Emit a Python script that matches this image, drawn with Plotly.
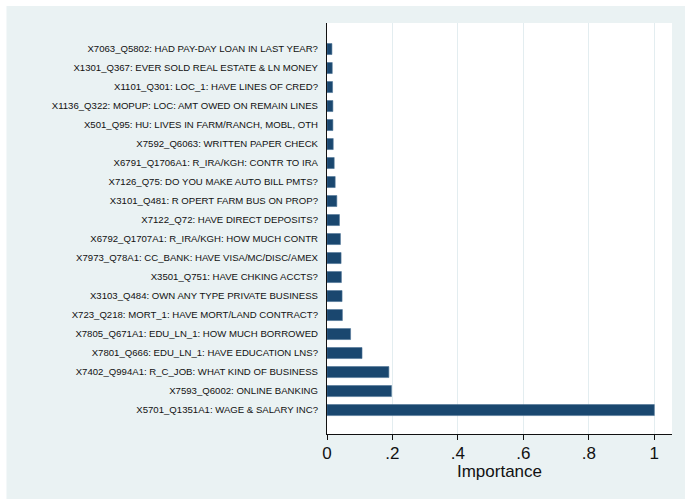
import plotly.graph_objects as go

labels = [
    "X7063_Q5802: HAD PAY-DAY LOAN IN LAST YEAR?",
    "X1301_Q367: EVER SOLD REAL ESTATE & LN MONEY",
    "X1101_Q301: LOC_1: HAVE LINES OF CRED?",
    "X1136_Q322: MOPUP: LOC: AMT OWED ON REMAIN LINES",
    "X501_Q95: HU: LIVES IN FARM/RANCH, MOBL, OTH",
    "X7592_Q6063: WRITTEN PAPER CHECK",
    "X6791_Q1706A1: R_IRA/KGH: CONTR TO IRA",
    "X7126_Q75: DO YOU MAKE AUTO BILL PMTS?",
    "X3101_Q481: R OPERT FARM BUS ON PROP?",
    "X7122_Q72: HAVE DIRECT DEPOSITS?",
    "X6792_Q1707A1: R_IRA/KGH: HOW MUCH CONTR",
    "X7973_Q78A1: CC_BANK: HAVE VISA/MC/DISC/AMEX",
    "X3501_Q751: HAVE CHKING ACCTS?",
    "X3103_Q484: OWN ANY TYPE PRIVATE BUSINESS",
    "X723_Q218: MORT_1: HAVE MORT/LAND CONTRACT?",
    "X7805_Q671A1: EDU_LN_1: HOW MUCH BORROWED",
    "X7801_Q666: EDU_LN_1: HAVE EDUCATION LNS?",
    "X7402_Q994A1: R_C_JOB: WHAT KIND OF BUSINESS",
    "X7593_Q6002: ONLINE BANKING",
    "X5701_Q1351A1: WAGE & SALARY INC?",
]
importance = [0.015, 0.016, 0.017, 0.018, 0.018, 0.019, 0.022, 0.025, 0.030, 0.038,
              0.041, 0.043, 0.044, 0.046, 0.047, 0.072, 0.107, 0.189, 0.197, 1.0]

tick_vals = [0, 0.2, 0.4, 0.6, 0.8, 1]
tick_text = ["0", ".2", ".4", ".6", ".8", "1"]

BG = "#EAF2F3"
FONT = "Liberation Sans, Arial, Helvetica, sans-serif"

fig = go.Figure(go.Bar(
    x=importance, y=labels, orientation="h",
    marker=dict(color="#1A476F", line=dict(color="#4d7396", width=0.6)),
    width=0.58,
))

fig.update_layout(
    width=685, height=499,
    margin=dict(l=327, r=13, t=23, b=65),
    paper_bgcolor=BG, plot_bgcolor="white",
    font=dict(family=FONT, color="#111111"),
    showlegend=False,
    bargap=0.42,
    shapes=[
        dict(type="rect", xref="paper", yref="paper", x0=-0.95, x1=-0.929, y0=-0.2, y1=1.1,
             fillcolor="white", line=dict(width=0), layer="below"),
        dict(type="rect", xref="paper", yref="paper", x0=-0.95, x1=1.1, y0=1.0414, y1=1.1,
             fillcolor="white", line=dict(width=0), layer="below"),
    ],
)

fig.update_xaxes(
    range=[0, 1.054], tickvals=tick_vals, ticktext=tick_text,
    showgrid=True, gridcolor="#E3EDF0", gridwidth=1, zeroline=False,
    showline=True, linecolor="#111111", linewidth=1.2,
    ticks="outside", ticklen=5, tickcolor="#111111", tickwidth=1.2,
    ticklabelstandoff=-2,
    tickfont=dict(size=17, family=FONT, color="#111111"),
    title=dict(text="Importance", font=dict(size=17, family=FONT, color="#111111"), standoff=2),
)
fig.update_yaxes(
    type="category", categoryorder="array", categoryarray=labels,
    range=[20.26, -1.37],
    showgrid=False, zeroline=False,
    showline=True, linecolor="#111111", linewidth=1.2,
    ticks="", ticklabelstandoff=6,
    tickfont=dict(size=9.6, family=FONT, color="#111111"),
)

fig.write_html("out.html")
